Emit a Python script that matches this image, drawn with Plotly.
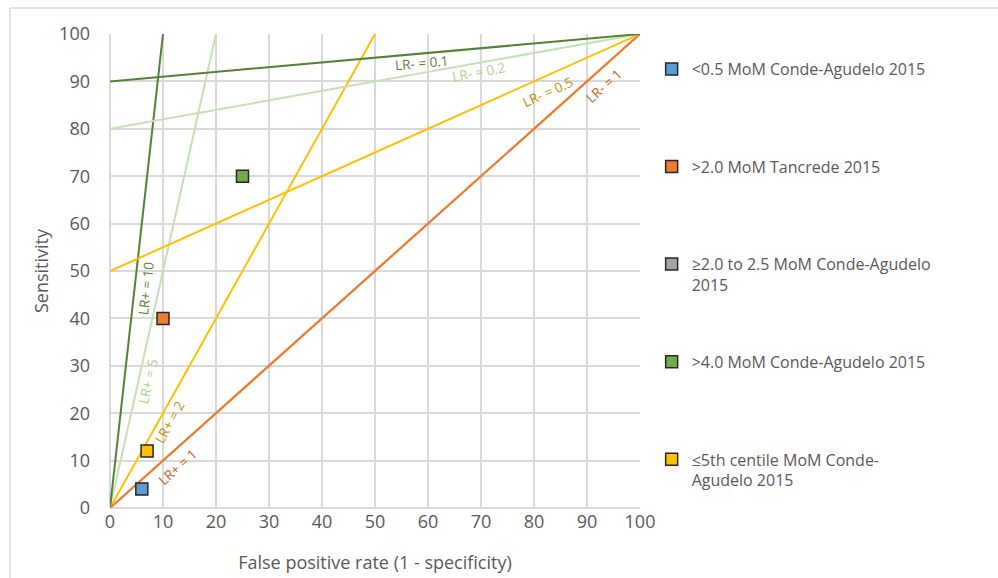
import math
import plotly.graph_objects as go

# Study estimates (false positive rate %, sensitivity %)
study_names = [
    "<0.5 MoM Conde-Agudelo 2015",
    ">2.0 MoM Tancrede 2015",
    "≥2.0 to 2.5 MoM Conde-Agudelo<br>2015",
    ">4.0 MoM Conde-Agudelo 2015",
    "≤5th centile MoM Conde-<br>Agudelo 2015",
]
study_fpr = [6, 10, None, 25, 7]
study_sens = [4, 40, None, 70, 12]
study_colors = ["#5B9BD5", "#ED7D31", "#A5A5A5", "#70AD47", "#FFC000"]

# Likelihood-ratio reference lines
lr_values = [1, 2, 5, 10]
lr_neg_values = [1, 0.5, 0.2, 0.1]
lr_line_colors = ["#ED7D31", "#FFC000", "#C5E0B4", "#548235"]
lr_label_colors = ["#C55A11", "#BF9000", "#A9D18E", "#548235"]

# Label anchor points along each line (data coords)
lr_pos_label_xy = [(12.8, 8.6), (11.3, 18.1), (7.2, 26.8), (6.8, 46.4)]
lr_neg_label_xy = [(93.2, 89.0), (82.6, 87.8), (69.6, 92.0), (58.7, 93.9)]

W, H = 998, 578
M_L, M_R, M_T, M_B = 110, 358, 34, 70
PW, PH = W - M_L - M_R, H - M_T - M_B

fig = go.Figure()

annotations = []
for lr, col, lcol, (lx, ly) in zip(lr_values, lr_line_colors, lr_label_colors, lr_pos_label_xy):
    x_end = min(100.0, 100.0 / lr)
    fig.add_trace(go.Scatter(x=[0, x_end], y=[0, lr * x_end], mode="lines",
                             line=dict(color=col, width=2), showlegend=False,
                             hoverinfo="skip"))
    ang = math.degrees(math.atan2(lr * PH, PW))
    annotations.append(dict(x=lx, y=ly, xref="x", yref="y", text=f"LR+ = {lr}",
                            showarrow=False, textangle=-ang,
                            font=dict(size=13.5, color=lcol, family="Open Sans")))

for lr, col, lcol, (lx, ly) in zip(lr_neg_values, lr_line_colors, lr_label_colors, lr_neg_label_xy):
    y0 = 100.0 * (1 - lr)
    fig.add_trace(go.Scatter(x=[0, 100], y=[y0, 100], mode="lines",
                             line=dict(color=col, width=2), showlegend=False,
                             hoverinfo="skip"))
    ang = math.degrees(math.atan2(lr * PH, PW))
    annotations.append(dict(x=lx, y=ly, xref="x", yref="y", text=f"LR- = {lr:g}",
                            showarrow=False, textangle=-ang,
                            font=dict(size=13.5, color=lcol, family="Open Sans")))

# Study points; single-line names get a blank second line so entries space evenly
for i, (name, x, y, c) in enumerate(zip(study_names, study_fpr, study_sens, study_colors)):
    label = name if "<br>" in name else name + "<br> "
    fig.add_trace(go.Scatter(x=[x], y=[y], mode="markers", name=label,
                             legendgroup=f"g{i}",
                             marker=dict(symbol="square", size=12, color=c,
                                         line=dict(color="#262626", width=1.5))))

# Outer chart frame
shapes = [
    dict(type="line", xref="paper", yref="paper",
         x0=(10 - M_L) / PW, x1=(W + 20 - M_L) / PW,
         y0=(H - M_B - 8) / PH, y1=(H - M_B - 8) / PH,
         line=dict(color="#D9D9D9", width=1.5)),
    dict(type="line", xref="paper", yref="paper",
         x0=(10 - M_L) / PW, x1=(10 - M_L) / PW,
         y0=(H - M_B - 8) / PH, y1=-(M_B + 20) / PH,
         line=dict(color="#D9D9D9", width=1.5)),
]

axis_common = dict(range=[0, 100], dtick=10, showgrid=True, gridcolor="#D9D9D9",
                   gridwidth=1.5, zeroline=True, zerolinecolor="#D9D9D9",
                   zerolinewidth=1.5, showline=False, ticks="",
                   tickfont=dict(size=18, color="#595959"),
                   title_font=dict(size=18, color="#595959"), fixedrange=True)

fig.update_layout(
    width=W, height=H,
    margin=dict(l=M_L, r=M_R, t=M_T, b=M_B, autoexpand=False),
    paper_bgcolor="white", plot_bgcolor="white",
    font=dict(family="Open Sans", color="#595959"),
    xaxis=dict(axis_common, title_text="False positive rate (1 - specificity)",
               ticklabelstandoff=1, title_standoff=24),
    yaxis=dict(axis_common, title_text="Sensitivity", ticklabelstandoff=19,
               title_standoff=5),
    showlegend=True,
    legend=dict(x=1.022, y=0.962, xanchor="left", yanchor="top",
                font=dict(size=16, color="#595959"), valign="top",
                tracegroupgap=53, itemwidth=30, bgcolor="rgba(0,0,0,0)"),
    annotations=annotations,
    shapes=shapes,
)

fig.write_html("out.html")
